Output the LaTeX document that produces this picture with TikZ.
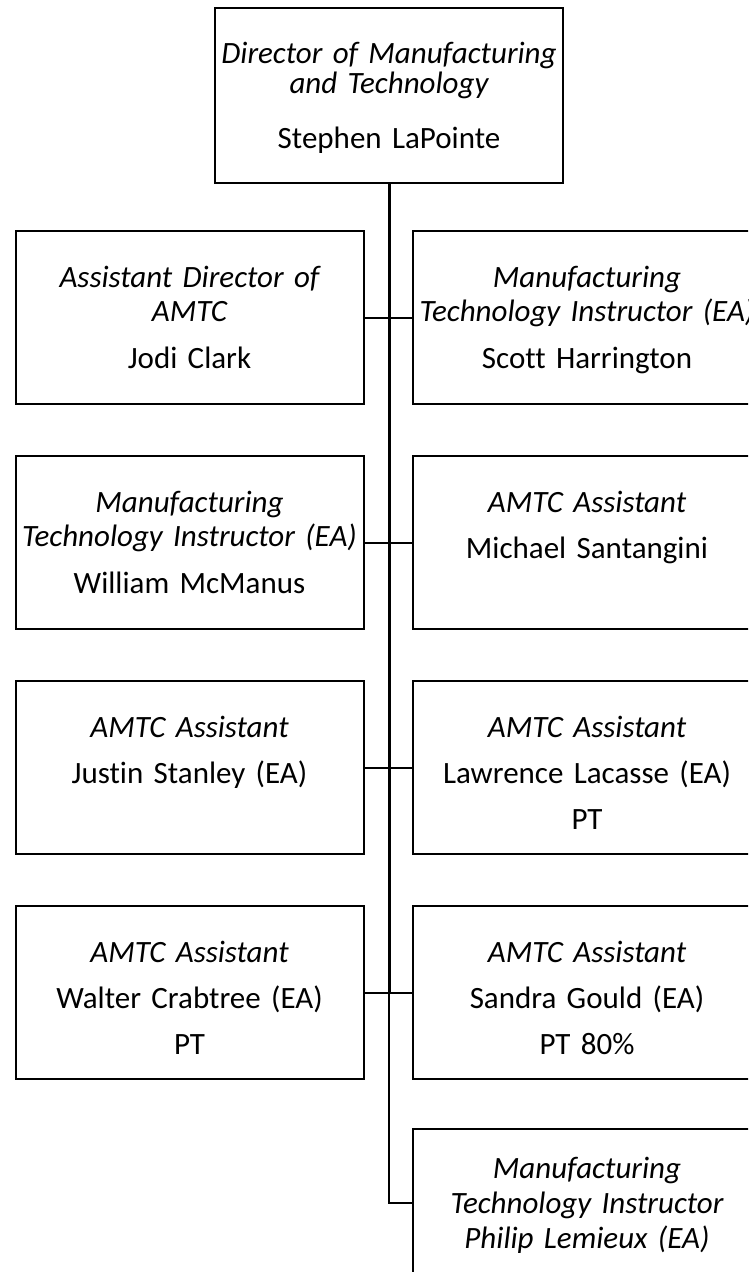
\documentclass[tikz,border=0pt]{standalone}
\usepackage{fontspec}
\setmainfont{Carlito}[Ligatures=NoCommon]
\begin{document}
\begin{tikzpicture}[x=1pt,y=-1pt,
    box/.style={draw,line width=2pt,anchor=north,text width=348pt,align=center,
      inner xsep=0pt,inner ysep=0pt,text height=56pt,text depth=117pt,
      font=\fontsize{31}{34}\selectfont},
    link/.style={line width=2pt},
    spine/.style={line width=3pt}]
    \useasboundingbox (0,0) rectangle (748,1272);
    \clip (0,0) rectangle (748,1272);
    \node[box,text height=55pt,text depth=120pt] (dir) at (389,7)
      {{\itshape Director of Manufacturing\\[-4pt]and Technology}\\[21pt]Stephen LaPointe};
    \node[box] (jodi) at (189.5,230) {{\itshape Assistant Director of\\AMTC}\\[13pt]Jodi Clark};
    \node[box] (scott) at (587,230) {{\itshape Manufacturing\\Technology Instructor (EA)}\\[13pt]Scott Harrington};
    \node[box] (mcmanus) at (189.5,455) {{\itshape Manufacturing\\Technology Instructor (EA)}\\[13pt]William McManus};
    \node[box] (santangini) at (587,455) {{\itshape AMTC Assistant}\\[12pt]Michael Santangini};
    \node[box] (stanley) at (189.5,680) {{\itshape AMTC Assistant}\\[12pt]Justin Stanley (EA)};
    \node[box] (lacasse) at (587,680) {{\itshape AMTC Assistant}\\[12pt]Lawrence Lacasse (EA)\\[12pt]PT};
    \node[box] (crabtree) at (189.5,905) {{\itshape AMTC Assistant}\\[12pt]Walter Crabtree (EA)\\[12pt]PT};
    \node[box] (gould) at (587,905) {{\itshape AMTC Assistant}\\[12pt]Sandra Gould (EA)\\[12pt]PT 80\%};
    \node[box,text height=49pt,text depth=99pt] (lemieux) at (587,1128)
      {\itshape Manufacturing\\[1pt]Technology Instructor\\[1pt]Philip Lemieux (EA)};
    \draw[spine] (dir.south) -- (dir.south |- gould.west);
    \path[link] (jodi.east) edge (scott.west);
    \path[link] (mcmanus.east) edge (santangini.west);
    \path[link] (stanley.east) edge (lacasse.west);
    \path[link] (crabtree.east) edge (gould.west);
    \draw[link] (dir.south |- gould.west) |- (lemieux.west);
  \end{tikzpicture}
\end{document}
